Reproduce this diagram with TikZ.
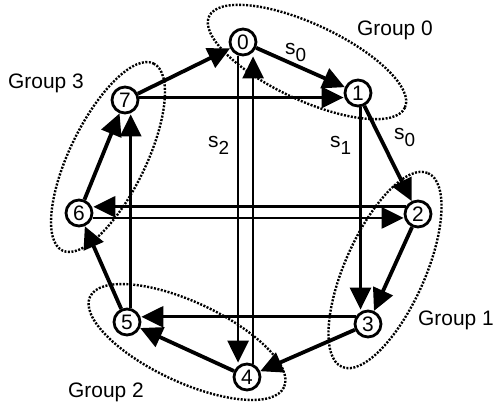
\documentclass[tikz,border=0pt]{standalone}
\usepackage{fontspec}
\setmainfont{Liberation Sans}
\usetikzlibrary{arrows.meta}
\newcommand{\slab}[1]{s\raisebox{-7bp}{\fontsize{19}{19}\selectfont #1}}

\begin{document}
\begin{tikzpicture}[
  x=1bp, y=-1bp,
  font=\fontsize{21}{24}\selectfont,
  vertex/.style={draw, circle, fill=white, line width=2.8bp, minimum size=26bp, inner sep=0pt},
  ring/.style={line width=3.8bp, -{Triangle[length=22bp,width=21bp]}},
  link/.style={line width=2.8bp, -{Triangle[length=22bp,width=21bp]}},
  group/.style={line width=2.4bp, dash pattern=on 2bp off 1.5bp},
  txt/.style={anchor=base west, inner sep=0pt}
]
\useasboundingbox (0,0) rectangle (495,406);

\draw[group, rotate around={-25:(307,62)}] (307,62) ellipse [x radius=108, y radius=38];
\draw[group, rotate around={66:(385,270)}] (385,270) ellipse [x radius=106, y radius=40];
\draw[group, rotate around={-25:(187,342)}] (187,342) ellipse [x radius=107, y radius=40];
\draw[group, rotate around={64:(108,157)}] (108,157) ellipse [x radius=104, y radius=38];

\node[vertex] (n0) at (243,42) {0};
\node[vertex] (n1) at (358,93) {1};
\node[vertex] (n2) at (418,214) {2};
\node[vertex] (n3) at (368,324) {3};
\node[vertex] (n4) at (247,377) {4};
\node[vertex] (n5) at (127,322) {5};
\node[vertex] (n6) at (79,213) {6};
\node[vertex] (n7) at (125,100) {7};

\draw[ring] (n7) -- (n0);
\draw[ring] (n0) -- (n1);
\draw[ring] (n1) -- (n2);
\draw[ring] (n2) -- (n3);
\draw[ring] (n3) -- (n4);
\draw[ring] (n4) -- (n5);
\draw[ring] (n5) -- (n6);
\draw[ring] (n6) -- (n7);

\draw[link] (n7.10) -- (n7.10 -| n1.west);
\draw[link] (n1.-80) -- (n1.-80 |- n3.north);
\draw[link] (n3.150) -- (n3.150 -| n5.east);
\draw[link] (n5.75) -- (n5.75 |- n7.south);
\draw[link] (n0.-110) -- (n0.-110 |- n4.north);
\draw[link] (n4.65) -- (n4.65 |- n0.south);
\draw[link] (n2.150) -- (n2.150 -| n6.east);
\draw[link] (n6.-20) -- (n6.-20 -| n2.west);

\node[txt] (s0a) at (285,54) {\slab{0}};
\node[txt] (s0b) at (394,139) {\slab{0}};
\node[txt] (s1) at (330,147) {\slab{1}};
\node[txt] (s2) at (208,147) {\slab{2}};

\node[txt] (g0) at (357,35) {Group 0};
\node[txt] (g1) at (418,325) {Group 1};
\node[txt] (g2) at (68,397) {Group 2};
\node[txt] (g3) at (8,88) {Group 3};
\end{tikzpicture}
\end{document}
